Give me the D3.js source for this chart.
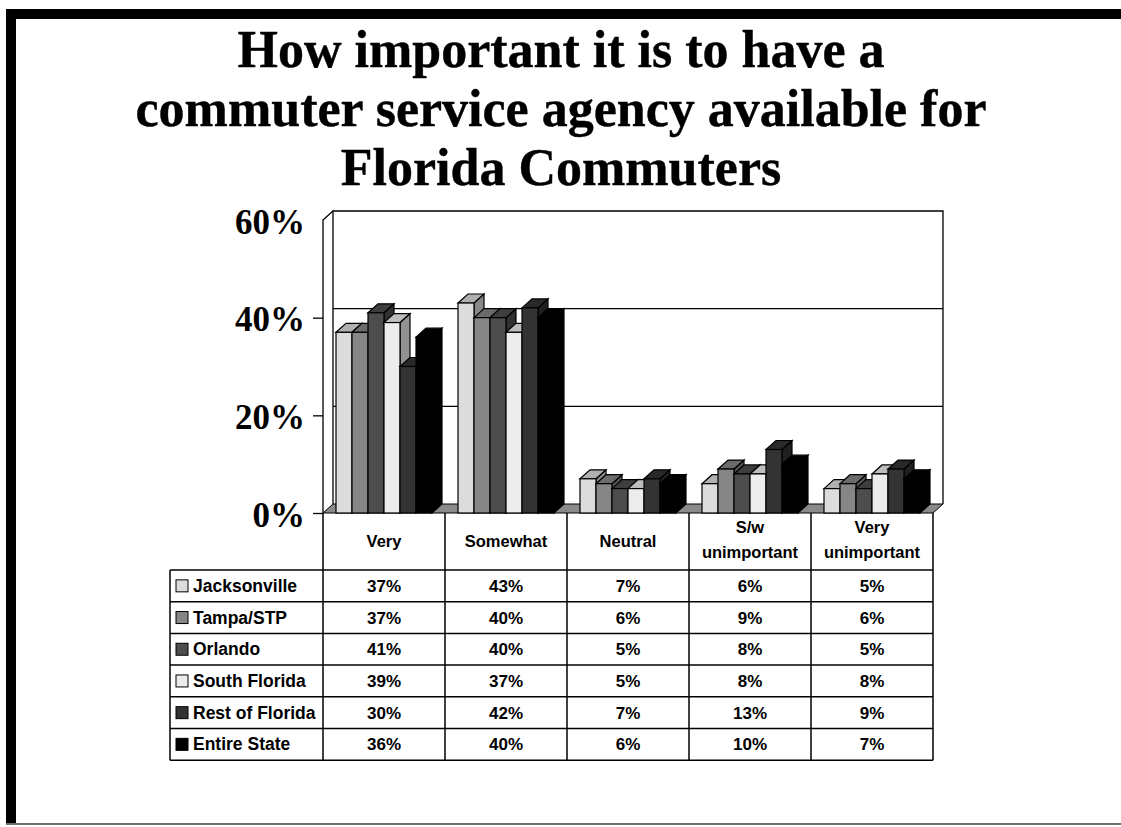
<!DOCTYPE html>
<html>
<head>
<meta charset="utf-8">
<script src="https://cdn.jsdelivr.net/npm/d3@7"></script>
<style>
  html, body { margin: 0; padding: 0; background: #fff; }
  svg { display: block; }
</style>
</head>
<body>
<svg id="chart" width="1121" height="827"></svg>
<script>
// ---- data ----
const categories = ["Very", "Somewhat", "Neutral", "S/w unimportant", "Very unimportant"];
const categoryLines = [["Very"], ["Somewhat"], ["Neutral"], ["S/w", "unimportant"], ["Very", "unimportant"]];
const series = ["Jacksonville", "Tampa/STP", "Orlando", "South Florida", "Rest of Florida", "Entire State"];
const jacksonville  = [37, 43, 7, 6, 5];
const tampa         = [37, 40, 6, 9, 6];
const orlando       = [41, 40, 5, 8, 5];
const southFlorida  = [39, 37, 5, 8, 8];
const restOfFlorida = [30, 42, 7, 13, 9];
const entireState   = [36, 40, 6, 10, 7];
const seriesValues = [jacksonville, tampa, orlando, southFlorida, restOfFlorida, entireState];
const yTicks = [0, 20, 40, 60];
const titleLines = ["How important it is to have a", "commuter service agency available for", "Florida Commuters"];

// ---- styling ----
const fills = ["#dcdcdc", "#868686", "#4d4d4d", "#ececec", "#333333", "#000000"];
const serif = "'Liberation Serif', 'Times New Roman', serif";
const sans = "'Liberation Sans', Arial, sans-serif";

const svg = d3.select("#chart");

// page frame
svg.append("rect").attr("x", 6).attr("y", 9).attr("width", 1115).attr("height", 10).attr("fill", "#000");
svg.append("rect").attr("x", 6).attr("y", 9).attr("width", 10).attr("height", 816).attr("fill", "#000");
svg.append("rect").attr("x", 6).attr("y", 823).attr("width", 1115).attr("height", 2).attr("fill", "#6e6e6e");

// title
svg.append("g").selectAll("text").data(titleLines).join("text")
  .attr("x", 561).attr("y", (d, i) => 67 + i * 59)
  .attr("text-anchor", "middle")
  .attr("font-family", serif).attr("font-weight", "bold").attr("font-size", 52)
  .attr("stroke", "#000").attr("stroke-width", 0.4)
  .text(d => d);

// ---- 3D plot geometry ----
const left = 323, right = 933, base = 513;
const depthX = 10, depthY = -9;
const x = d3.scaleBand().domain(categories).range([left, right]).padding(0);
const inner = d3.scaleBand().domain(series).range([13, 109]).padding(0);
const y = d3.scaleLinear().domain([0, 60]).range([base, 220]);

const plot = svg.append("g");

// back wall and left wall
plot.append("path")
  .attr("d", `M${left + depthX},${y(0) + depthY}V${y(60) + depthY}H${right + depthX}V${y(0) + depthY}`)
  .attr("fill", "#fff").attr("stroke", "#000").attr("stroke-width", 1.3);
plot.append("path")
  .attr("d", `M${left},${y(0)}V${y(60)}L${left + depthX},${y(60) + depthY}`)
  .attr("fill", "none").attr("stroke", "#000").attr("stroke-width", 1.3);

// gridlines on the back wall
plot.append("g").selectAll("line").data(yTicks.filter(t => t > 0 && t < 60)).join("line")
  .attr("x1", left + depthX).attr("x2", right + depthX)
  .attr("y1", d => y(d) + depthY).attr("y2", d => y(d) + depthY)
  .attr("stroke", "#000").attr("stroke-width", 1.3);

// floor
plot.append("path")
  .attr("d", `M${left},${base}L${left + depthX},${base + depthY}H${right + depthX}L${right},${base}Z`)
  .attr("fill", "#8a8a8a").attr("stroke", "#000").attr("stroke-width", 1);

// y axis
const yAxis = d3.axisLeft(y).tickValues(yTicks).tickFormat(d => d + "%").tickSize(10).tickPadding(8);
const axisG = plot.append("g").attr("transform", `translate(${left},0)`).call(yAxis);
axisG.select(".domain").remove();
axisG.selectAll(".tick line").attr("stroke", "#000").attr("stroke-width", 1.3)
  .filter(d => d === 60).remove();
axisG.selectAll(".tick text")
  .attr("font-family", serif).attr("font-weight", "bold").attr("font-size", 35)
  .attr("fill", "#000").attr("dy", "0.38em");

// bars
function shade(c, k) { const h = d3.hsl(c); return d3.rgb(h.l === 0 ? "#000" : d3.hsl(h.h, h.s, h.l * k).toString()); }
const bars = plot.append("g");
categories.forEach((cat, ci) => {
  series.forEach((s, si) => {
    const v = seriesValues[si][ci];
    const x0 = x(cat) + inner(s), w = inner.bandwidth();
    const top = y(v);
    const g = bars.append("g");
    g.append("path")
      .attr("d", `M${x0 + w},${top}L${x0 + w + depthX},${top + depthY}V${base + depthY}L${x0 + w},${base}Z`)
      .attr("fill", shade(fills[si], 0.62)).attr("stroke", "#000").attr("stroke-width", 1.2);
    g.append("path")
      .attr("d", `M${x0},${top}L${x0 + depthX},${top + depthY}H${x0 + w + depthX}L${x0 + w},${top}Z`)
      .attr("fill", shade(fills[si], 0.8)).attr("stroke", "#000").attr("stroke-width", 1.2);
    g.append("rect").attr("x", x0).attr("y", top).attr("width", w).attr("height", base - top)
      .attr("fill", fills[si]).attr("stroke", "#000").attr("stroke-width", 1.2);
  });
});

// ---- data table ----
const tableLeft = 170, headerBottom = 570, rowH = 31.7;
const rowY = i => headerBottom + i * rowH;
const table = svg.append("g");

// column dividers
table.selectAll("line.col").data(categories.concat(["end"])).join("line")
  .attr("x1", (d, i) => i < categories.length ? x(d) : right)
  .attr("x2", (d, i) => i < categories.length ? x(d) : right)
  .attr("y1", base).attr("y2", rowY(series.length))
  .attr("stroke", "#000").attr("stroke-width", 1.5);
// row lines
table.selectAll("line.row").data(d3.range(series.length + 1)).join("line")
  .attr("x1", tableLeft).attr("x2", right)
  .attr("y1", i => rowY(i)).attr("y2", i => rowY(i))
  .attr("stroke", "#000").attr("stroke-width", 1.5);
table.append("line").attr("x1", tableLeft).attr("x2", tableLeft)
  .attr("y1", rowY(0)).attr("y2", rowY(series.length))
  .attr("stroke", "#000").attr("stroke-width", 1.5);

// header labels
categoryLines.forEach((lines, ci) => {
  const cx = x(categories[ci]) + x.bandwidth() / 2;
  const y0 = lines.length === 1 ? 547 : 533;
  lines.forEach((ln, li) => {
    table.append("text").attr("x", cx).attr("y", y0 + li * 25)
      .attr("text-anchor", "middle").attr("font-family", sans).attr("font-weight", "bold")
      .attr("font-size", 16.5).text(ln);
  });
});

// legend rows and values
series.forEach((s, si) => {
  const cy = rowY(si) + rowH / 2;
  table.append("rect").attr("x", 176).attr("y", cy - 6).attr("width", 12).attr("height", 12)
    .attr("fill", fills[si]).attr("stroke", "#000").attr("stroke-width", 1);
  table.append("text").attr("x", 193).attr("y", cy + 6)
    .attr("font-family", sans).attr("font-weight", "bold").attr("font-size", 17.5).text(s);
  categories.forEach((cat, ci) => {
    table.append("text").attr("x", x(cat) + x.bandwidth() / 2).attr("y", cy + 6)
      .attr("text-anchor", "middle").attr("font-family", sans).attr("font-weight", "bold")
      .attr("font-size", 17).text(seriesValues[si][ci] + "%");
  });
});
</script>
</body>
</html>
